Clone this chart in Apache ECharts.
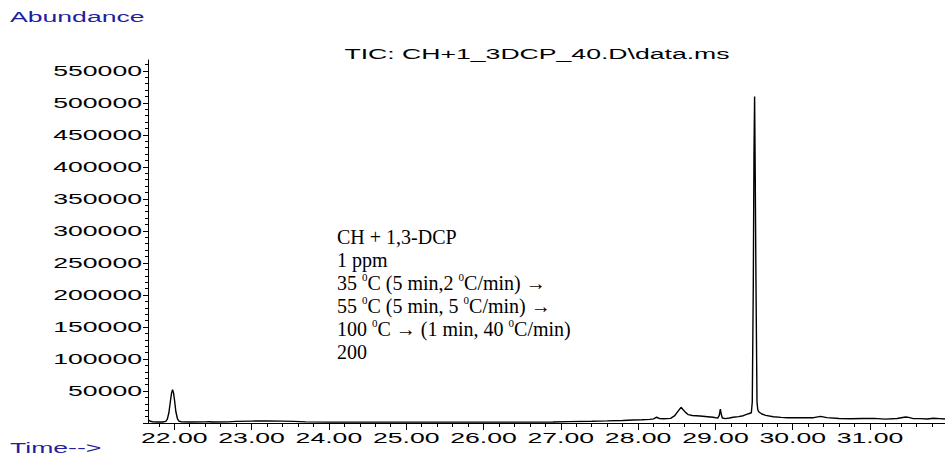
<!DOCTYPE html>
<html><head><meta charset="utf-8">
<script src="https://cdn.jsdelivr.net/npm/echarts@6/dist/echarts.min.js"></script>
<style>html,body{margin:0;padding:0;background:#fff}#c{width:945px;height:456px}</style>
</head><body><div id="c"></div>
<script>
// ---- data ----
const times = [21.664,21.69,21.72,21.78,21.85,21.89,21.91,21.93,21.95,21.965,21.978,21.99,22.005,22.02,22.04,22.06,22.09,22.2,22.4,22.45,22.5,22.7,22.8,23.0,23.2,23.4,23.55,23.7,24.0,24.5,25.0,25.5,26.0,26.5,26.9,27.1,27.4,27.6,27.8,27.94,28.05,28.15,28.2,28.24,28.28,28.33,28.42,28.47,28.52,28.555,28.58,28.61,28.65,28.7,28.8,28.9,28.97,29.03,29.05,29.064,29.075,29.09,29.13,29.18,29.23,29.3,29.36,29.43,29.465,29.477,29.49,29.499,29.507,29.515,29.525,29.538,29.548,29.56,29.6,29.65,29.75,29.85,29.93,30.1,30.27,30.36,30.44,30.6,30.75,30.9,31.05,31.2,31.35,31.46,31.5,31.56,31.65,31.74,31.82,31.9,31.97];
const abundance = [4600,2800,2000,1600,1600,2500,6000,16000,34000,47000,52000,47000,34000,18000,7000,3000,1900,1600,1700,2000,1600,1800,2600,3000,3100,2900,2600,1700,1400,1300,1300,1300,1300,1400,1500,2200,2800,3300,4000,4700,5000,5600,6500,9000,6800,6600,7300,11000,19000,24500,21000,17000,13000,11800,11000,9800,8900,7600,12000,21500,14000,7800,6800,7800,8900,10000,11400,14500,16000,33000,215000,420000,510000,390000,215000,33000,21000,17500,14000,12000,9800,8800,8300,8200,8300,10300,8400,7000,6700,7000,7300,6000,7000,9400,8800,6800,6800,6300,7500,6800,6200];
const xTickLabels = [22,23,24,25,26,27,28,29,30,31];
const yTickLabels = [50000,100000,150000,200000,250000,300000,350000,400000,450000,500000,550000];
const titleText = 'TIC: CH+1_3DCP_40.D\\data.ms';
const yAxisName = 'Abundance';
const xAxisName = 'Time-->';
const noteLines = [
  'CH + 1,3-DCP',
  '1 ppm',
  '35 {sup|0}C (5 min,2 {sup|0}C/min) \u2192',
  '55 {sup|0}C (5 min, 5 {sup|0}C/min) \u2192',
  '100 {sup|0}C \u2192 (1 min, 40 {sup|0}C/min)',
  '200'
];

// ---- chart ----
const X_MIN = 21.66, X_MAX = 31.97, Y_MIN = 0, Y_MAX = 567000;
const seriesData = times.map((t, i) => [t, abundance[i]]);
const xMinor = []; for (let k = 0; k <= 60; k++) { const v = Math.round((21.8 + 0.2 * k) * 10) / 10; if (v <= X_MAX) xMinor.push(v); }
const yMajor = [0].concat(yTickLabels);
const yMinor = []; for (let v = 0; v <= 560000; v += 10000) yMinor.push(v);

const SANS = 'Liberation Sans';
const BLUE = '#1f1fa0';

const option = {
  animation: false,
  backgroundColor: '#fff',
  grid: { left: 148, right: 0, top: 60, bottom: 33, containLabel: false },
  xAxis: [
    { type: 'value', min: X_MIN, max: X_MAX, position: 'bottom',
      axisLine: { show: true, onZero: false, lineStyle: { color: '#000', width: 1 } },
      axisTick: { show: true, customValues: xTickLabels, length: 7, lineStyle: { color: '#000', width: 1 } },
      axisLabel: { show: true, customValues: xTickLabels, margin: 8, color: '#000', fontFamily: SANS, fontSize: 14,
        formatter: v => Number(v).toFixed(2) },
      splitLine: { show: false } },
    { type: 'value', min: X_MIN, max: X_MAX, position: 'bottom',
      axisLine: { show: false, onZero: false },
      axisTick: { show: true, customValues: xMinor, length: 4, lineStyle: { color: '#000', width: 1 } },
      axisLabel: { show: false }, splitLine: { show: false } }
  ],
  yAxis: [
    { type: 'value', min: Y_MIN, max: Y_MAX, position: 'left',
      axisLine: { show: true, onZero: false, lineStyle: { color: '#000', width: 1 } },
      axisTick: { show: true, customValues: yMajor, length: 5, lineStyle: { color: '#000', width: 1 } },
      axisLabel: { show: true, customValues: yTickLabels, margin: 6, color: '#000', fontFamily: SANS, fontSize: 14,
        formatter: v => String(Math.round(v)) },
      splitLine: { show: false } },
    { type: 'value', min: Y_MIN, max: Y_MAX, position: 'left',
      axisLine: { show: false, onZero: false },
      axisTick: { show: true, customValues: yMinor, length: 3, lineStyle: { color: '#000', width: 1 } },
      axisLabel: { show: false }, splitLine: { show: false } }
  ],
  series: [{
    type: 'line', xAxisIndex: 0, yAxisIndex: 0, data: seriesData,
    showSymbol: false, symbol: 'none', smooth: false,
    lineStyle: { color: '#000', width: 1.4 }, silent: true
  }],
  graphic: [
    { type: 'text', x: 10, y: 17, style: { text: yAxisName, fill: BLUE, fontFamily: SANS, fontSize: 14, textAlign: 'left', textVerticalAlign: 'middle' } },
    { type: 'text', x: 10, y: 448, style: { text: xAxisName, fill: BLUE, fontFamily: SANS, fontSize: 14, textAlign: 'left', textVerticalAlign: 'middle' } },
    { type: 'text', x: 537, y: 54, style: { text: titleText, fill: '#000', fontFamily: SANS, fontSize: 14, textAlign: 'center', textVerticalAlign: 'middle' } },
    { type: 'text', x: 337, y: 225, style: {
        text: noteLines.join('\n'), fill: '#000', fontFamily: 'Liberation Serif', fontSize: 20, lineHeight: 23,
        textAlign: 'left', textVerticalAlign: 'top',
        rich: { sup: { fontFamily: 'Liberation Serif', fontSize: 11, lineHeight: 17, verticalAlign: 'top', fill: '#000' } }
    } }
  ]
};

const el = document.getElementById('c');
const chart = echarts.init(el, null, { renderer: 'svg' });
chart.setOption(option);

// The reference's sans-serif labels are horizontally stretched; emulate with SVG textLength.
const STRETCH = 1.9;
function stretch() {
  el.querySelectorAll('svg text').forEach(t => {
    if (t.hasAttribute('textLength')) return;
    const ff = getComputedStyle(t).fontFamily || '';
    if (ff.indexOf('Liberation Sans') < 0) return;
    const len = t.getComputedTextLength();
    if (!len) return;
    t.setAttribute('lengthAdjust', 'spacingAndGlyphs');
    t.setAttribute('textLength', (len * STRETCH).toFixed(2));
  });
}
chart.on('finished', stretch);
setTimeout(stretch, 0);
setTimeout(stretch, 100);
</script>
</body></html>
